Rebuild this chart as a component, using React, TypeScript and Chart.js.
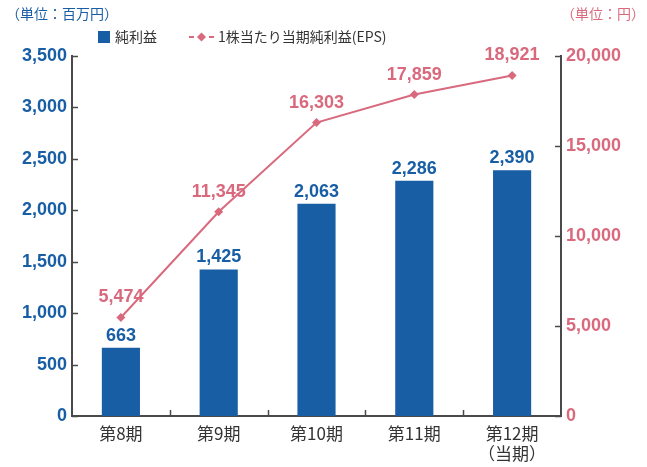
import React, { useEffect, useRef } from "react";
import { Chart, registerables } from "chart.js";

Chart.register(...registerables);

const categories: (string | string[])[] = ["第8期", "第9期", "第10期", "第11期", ["第12期", "（当期）"]];
const netIncome = [663, 1425, 2063, 2286, 2390];
const eps = [5474, 11345, 16303, 17859, 18921];
const leftTicks = [0, 500, 1000, 1500, 2000, 2500, 3000, 3500];
const rightTicks = [0, 5000, 10000, 15000, 20000];

const BLUE = "#185ea5";
const PINK = "#d96a7d";
const DARK = "#333333";
const AXIS = "#4a4a4a";
const NUM_FONT = "'Liberation Sans', Arial, 'Noto Sans CJK JP', sans-serif";
const JP_FONT = "'Noto Sans CJK JP', 'Liberation Sans', sans-serif";

const fmt = (v: number) => v.toLocaleString("en-US");

const overlay = {
  id: "overlay",
  afterDatasetsDraw(chart: any) {
    const ctx = chart.ctx;
    const x = chart.scales.x;
    const yL = chart.scales.y;
    const yR = chart.scales.y1;
    const area = chart.chartArea;
    ctx.save();
    // inward ticks
    ctx.strokeStyle = AXIS;
    ctx.lineWidth = 1.5;
    leftTicks.forEach((v) => {
      const py = Math.round(yL.getPixelForValue(v)) + 0.5;
      ctx.beginPath();
      ctx.moveTo(area.left, py);
      ctx.lineTo(area.left + 6, py);
      ctx.stroke();
    });
    rightTicks.forEach((v) => {
      const py = Math.round(yR.getPixelForValue(v)) + 0.5;
      ctx.beginPath();
      ctx.moveTo(area.right, py);
      ctx.lineTo(area.right - 6, py);
      ctx.stroke();
    });
    for (let i = 1; i < categories.length; i++) {
      const px = Math.round((x.getPixelForValue(i - 1) + x.getPixelForValue(i)) / 2) + 0.5;
      ctx.beginPath();
      ctx.moveTo(px, area.bottom);
      ctx.lineTo(px, area.bottom - 6);
      ctx.stroke();
    }
    // bar labels
    ctx.font = `bold 18px ${NUM_FONT}`;
    ctx.textAlign = "center";
    ctx.textBaseline = "bottom";
    ctx.fillStyle = BLUE;
    const barMeta = chart.getDatasetMeta(0);
    barMeta.data.forEach((el: any, i: number) => {
      ctx.fillText(fmt(netIncome[i]), el.x, el.y - 3);
    });
    // eps labels
    ctx.fillStyle = PINK;
    const lineMeta = chart.getDatasetMeta(1);
    lineMeta.data.forEach((el: any, i: number) => {
      ctx.fillText(fmt(eps[i]), el.x, el.y - 11);
    });
    // unit labels
    ctx.font = `14px ${JP_FONT}`;
    ctx.textBaseline = "middle";
    ctx.textAlign = "left";
    ctx.fillStyle = BLUE;
    ctx.fillText("（単位：百万円）", 6, 14);
    ctx.textAlign = "right";
    ctx.fillStyle = PINK;
    ctx.fillText("（単位：円）", 645, 14);
    // legend
    ctx.fillStyle = BLUE;
    ctx.fillRect(98, 31, 12, 12);
    ctx.textAlign = "left";
    ctx.fillStyle = DARK;
    ctx.font = `14px ${JP_FONT}`;
    ctx.fillText("純利益", 115, 37);
    ctx.strokeStyle = PINK;
    ctx.lineWidth = 2;
    ctx.beginPath();
    ctx.moveTo(189, 37);
    ctx.lineTo(194, 37);
    ctx.moveTo(209, 37);
    ctx.lineTo(214, 37);
    ctx.stroke();
    ctx.fillStyle = PINK;
    ctx.beginPath();
    ctx.moveTo(201.5, 32.5);
    ctx.lineTo(206, 37);
    ctx.lineTo(201.5, 41.5);
    ctx.lineTo(197, 37);
    ctx.closePath();
    ctx.fill();
    ctx.fillStyle = DARK;
    ctx.fillText("1株当たり当期純利益(EPS)", 218, 37);
    ctx.restore();
  },
};

export default function App() {
  const ref = useRef<HTMLCanvasElement>(null);
  useEffect(() => {
    if (!ref.current) return;
    const chart = new Chart(ref.current, {
      data: {
        labels: categories as any,
        datasets: [
          {
            type: "bar",
            data: netIncome,
            backgroundColor: BLUE,
            yAxisID: "y",
            categoryPercentage: 1,
            barPercentage: 0.39,
            order: 2,
          },
          {
            type: "line",
            data: eps,
            borderColor: PINK,
            backgroundColor: PINK,
            borderWidth: 2,
            pointStyle: "rectRot",
            pointRadius: 4.5,
            pointBackgroundColor: PINK,
            pointBorderWidth: 0,
            yAxisID: "y1",
            order: 1,
          },
        ],
      } as any,
      options: {
        animation: false,
        responsive: false,
        maintainAspectRatio: false,
        layout: { padding: { top: 56, left: 0, right: 0, bottom: 0 } },
        plugins: { legend: { display: false }, tooltip: { enabled: false } },
        scales: {
          x: {
            grid: { display: false, drawTicks: false },
            border: { display: true, color: AXIS, width: 2 },
            ticks: {
              color: DARK,
              font: { family: JP_FONT, size: 17, lineHeight: 1.2 },
              padding: 7,
              maxRotation: 0,
              autoSkip: false,
            },
            afterFit: (s: any) => {
              s.height = 51;
            },
          },
          y: {
            position: "left",
            min: 0,
            max: 3500,
            afterBuildTicks: (s: any) => {
              s.ticks = leftTicks.map((v) => ({ value: v }));
            },
            grid: { display: false, drawTicks: false },
            border: { display: true, color: AXIS, width: 2 },
            ticks: {
              color: BLUE,
              font: { family: NUM_FONT, size: 18, weight: "bold" },
              padding: 5,
              callback: (v: any) => fmt(Number(v)),
            },
            afterFit: (s: any) => {
              s.width = 72;
            },
          },
          y1: {
            position: "right",
            min: 0,
            max: 20000,
            afterBuildTicks: (s: any) => {
              s.ticks = rightTicks.map((v) => ({ value: v }));
            },
            grid: { display: false, drawTicks: false },
            border: { display: true, color: AXIS, width: 2 },
            ticks: {
              color: PINK,
              font: { family: NUM_FONT, size: 18, weight: "bold" },
              padding: 5,
              callback: (v: any) => fmt(Number(v)),
            },
            afterFit: (s: any) => {
              s.width = 86;
            },
          },
        },
      } as any,
      plugins: [overlay],
    });
    return () => chart.destroy();
  }, []);
  return (
    <div style={{ position: "absolute", left: 0, top: 0, width: 647, height: 467, background: "#fff" }}>
      <canvas ref={ref} width={647} height={467} style={{ width: 647, height: 467 }} />
    </div>
  );
}
